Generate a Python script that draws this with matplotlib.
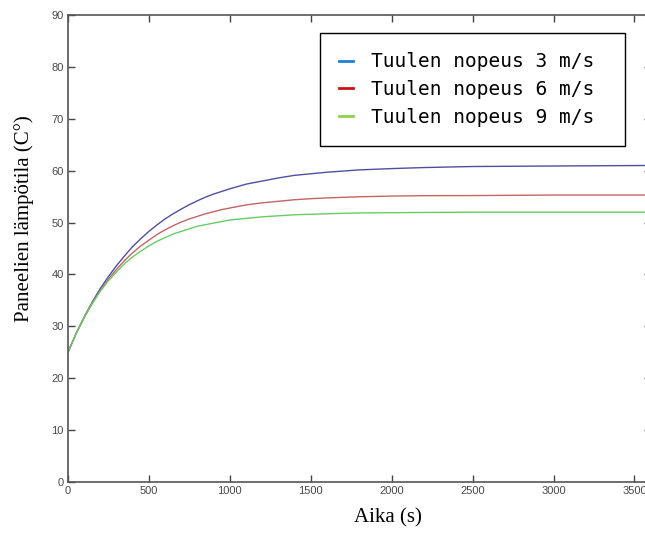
import matplotlib
matplotlib.use("Agg")
import matplotlib.pyplot as plt
from matplotlib.lines import Line2D

# time axis (s) and panel temperatures
time_s = [0, 50, 100, 150, 200, 250, 300, 350, 400, 450, 500, 550, 600, 650,
          700, 750, 800, 850, 900, 950, 1000, 1100, 1200, 1300, 1400, 1500,
          1600, 1800, 2000, 2200, 2500, 3000, 3600]
temp_3ms = [25.0, 28.6, 31.8, 34.7, 37.3, 39.6, 41.7, 43.6, 45.4, 46.9, 48.3,
            49.55, 50.7, 51.7, 52.6, 53.45, 54.2, 54.9, 55.5, 56.0, 56.5,
            57.4, 58.0, 58.6, 59.1, 59.4, 59.7, 60.15, 60.4, 60.6, 60.8,
            60.9, 61.0]
temp_6ms = [25.0, 28.6, 31.7, 34.5, 36.9, 39.1, 41.0, 42.7, 44.2, 45.5, 46.6,
            47.7, 48.6, 49.4, 50.1, 50.7, 51.2, 51.7, 52.1, 52.5, 52.8,
            53.4, 53.8, 54.1, 54.4, 54.6, 54.75, 54.97, 55.1, 55.18, 55.2,
            55.3, 55.3]
temp_9ms = [25.0, 28.6, 31.7, 34.4, 36.8, 38.8, 40.5, 42.1, 43.4, 44.5, 45.5,
            46.4, 47.1, 47.8, 48.3, 48.8, 49.3, 49.6, 49.9, 50.2, 50.5,
            50.8, 51.1, 51.3, 51.5, 51.6, 51.7, 51.85, 51.9, 51.95, 52.0,
            52.0, 52.0]

labels = ["Tuulen nopeus 3 m/s", "Tuulen nopeus 6 m/s", "Tuulen nopeus 9 m/s"]
x_ticks = [0, 500, 1000, 1500, 2000, 2500, 3000, 3500]
y_ticks = [0, 10, 20, 30, 40, 50, 60, 70, 80, 90]

fig = plt.figure(figsize=(6.45, 5.36), dpi=100)
ax = fig.add_axes([68 / 645, 54 / 536, 582.6 / 645, 467 / 536])

# curves (colours as they appear in the plot)
ax.plot(time_s, temp_3ms, color="#4f4f9f", lw=1.0)
ax.plot(time_s, temp_6ms, color="#c46464", lw=1.0)
ax.plot(time_s, temp_9ms, color="#66cc66", lw=1.0)

ax.set_xlim(0, 3600)
ax.set_ylim(0, 90)
ax.set_xticks(x_ticks)
ax.set_yticks(y_ticks)

for sp in ax.spines.values():
    sp.set_color("#555555")
    sp.set_linewidth(1.2)
ax.tick_params(direction="in", length=5, width=1, color="#444444",
               top=True, right=True, labelsize=8, labelcolor="#484848", pad=3)
for lab in ax.get_xticklabels() + ax.get_yticklabels():
    lab.set_family(["Liberation Sans", "DejaVu Sans"])

# axis labels (serif, placed as in the reference)
ax.set_xlabel("Aika (s)", family="Liberation Serif", fontsize=15, va="center")
ax.xaxis.set_label_coords(0.549, -0.077)
ax.set_ylabel("Paneelien lämpötila (C°)", family="Liberation Serif",
              fontsize=15, va="center", ha="center")
ax.yaxis.set_label_coords(-0.0755, 0.563)

# legend uses its own (brighter) colours
handles = [Line2D([], [], color="#1f80d8", lw=2),
           Line2D([], [], color="#cc1111", lw=2),
           Line2D([], [], color="#8ed24c", lw=2)]
leg = ax.legend(handles, [l + " " for l in labels], loc="upper right",
                bbox_to_anchor=(0.956, 0.9615), borderaxespad=0,
                prop={"family": "DejaVu Sans Mono", "size": 14},
                handlelength=0.7, handletextpad=0.9, labelspacing=0.45,
                borderpad=1.0, fancybox=False, framealpha=1)
leg.get_frame().set_edgecolor("black")
leg.get_frame().set_linewidth(1.0)

fig.savefig("out.png", dpi=100)
